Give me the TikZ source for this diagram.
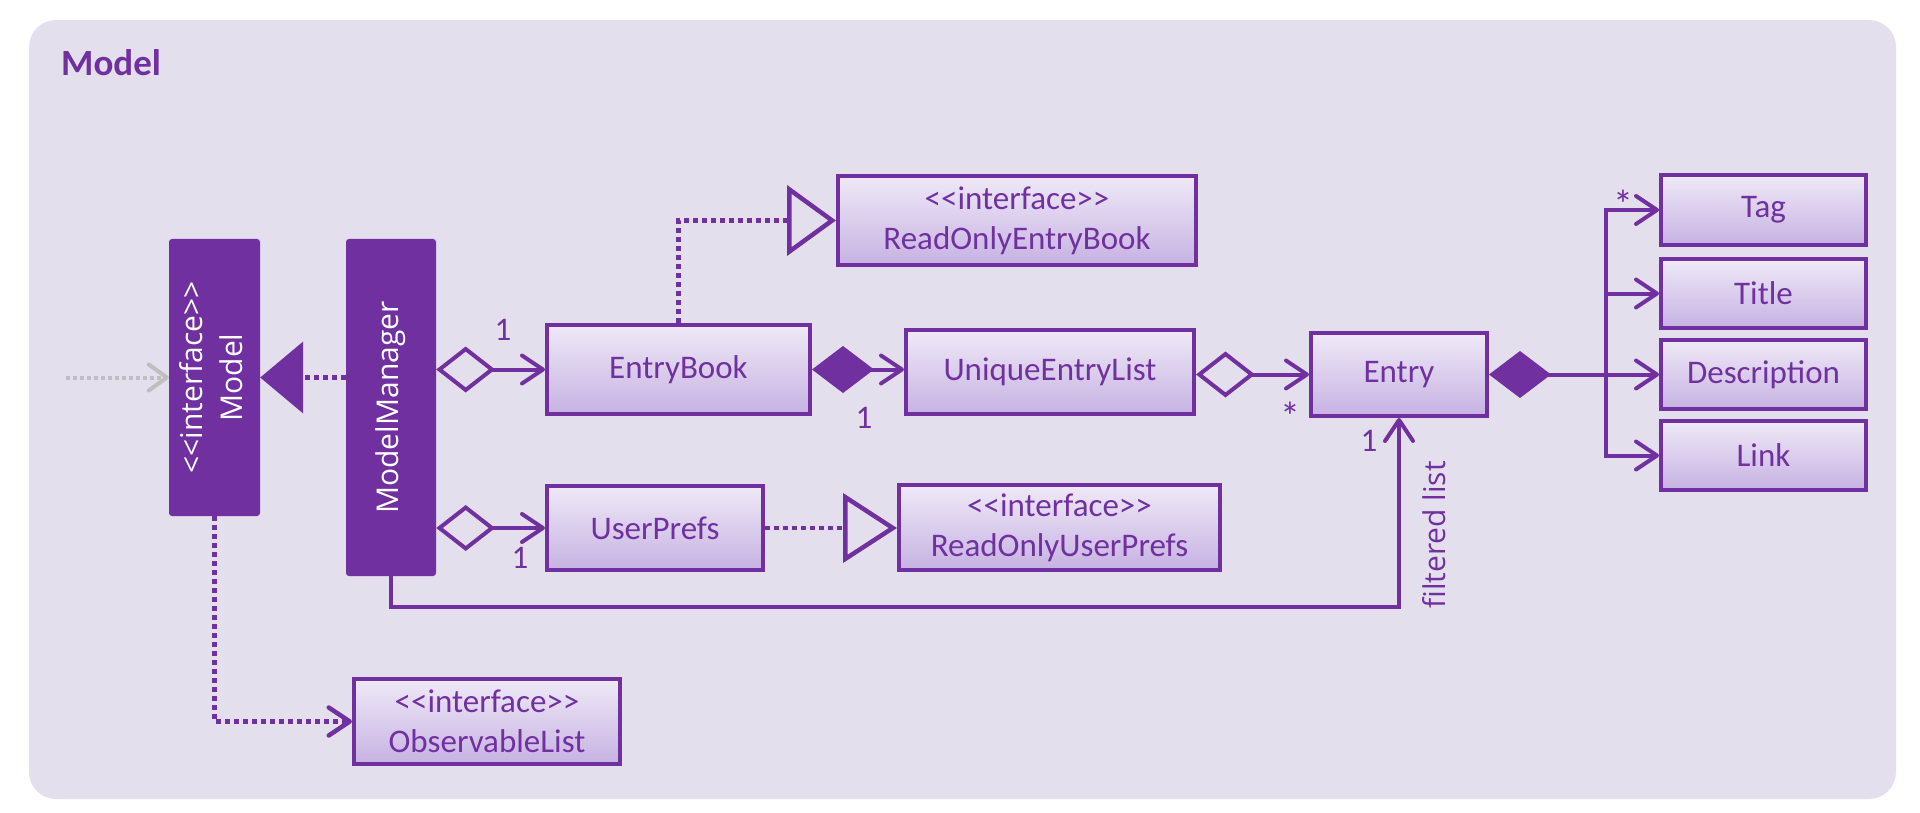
\documentclass[tikz,border=0pt]{standalone}
\usepackage{fontspec}
\usepackage{graphicx}
\newfontfamily\calibri{Carlito}
\newfontfamily\segoe{Open Sans}
\usetikzlibrary{arrows.meta}
\definecolor{umlpurple}{HTML}{7030A0}
\definecolor{pkgbg}{HTML}{E4DFEC}
\definecolor{boxtop}{HTML}{EFE9F7}
\definecolor{boxbot}{HTML}{C6B2E2}
\definecolor{extgray}{HTML}{BFBFBF}
\newcommand\stereo[1]{<\kern0pt<#1>\kern0pt>}
\begin{document}
\begin{tikzpicture}[x=1pt,y=-1pt,
  cls/.style={draw=umlpurple, line width=4pt, top color=boxtop, bottom color=boxbot,
    text=umlpurple, font=\calibri\fontsize{33}{40}\selectfont, align=center, inner sep=0pt},
  solidcls/.style={fill=umlpurple, rounded corners=3pt, text=white,
    font=\segoe\fontsize{30}{40}\selectfont, inner sep=0pt},
  conn/.style={draw=umlpurple, line width=4pt},
  dotline/.style={draw=umlpurple, line width=4.5pt, dash pattern=on 5pt off 4pt},
  openhead/.style={-{Straight Barb[length=21pt,width=28pt,round]}},
  aggr/.style={{Diamond[open,length=59pt,width=46pt]}-{Straight Barb[length=21pt,width=28pt,round]}},
  comp/.style={{Diamond[length=62pt,width=47pt]}-{Straight Barb[length=21pt,width=28pt,round]}},
  mult/.style={text=umlpurple, font=\calibri\fontsize{33}{40}\selectfont, inner sep=0pt,
    text height=22pt, text depth=0pt},
  star/.style={text=umlpurple, font=\calibri\fontsize{40}{48}\selectfont, inner sep=0pt, anchor=base},
]
\useasboundingbox (0,0) rectangle (1920,813);
\fill[white] (0,0) rectangle (1920,813);
\fill[pkgbg, rounded corners=27pt] (29,20) rectangle (1896,799);
\node[anchor=base west, inner sep=0pt, text=umlpurple, font=\calibri\bfseries\fontsize{37}{44}\selectfont] (title) at (61,76) {Model};

% classes
\node[solidcls, minimum width=91pt, minimum height=277pt] (model) at (214.5,377.5)
  {\rotatebox{90}{\begin{tabular}{@{}c@{}}\stereo{interface}\\Model\end{tabular}}};
\node[solidcls, minimum width=90pt, minimum height=337pt] (mm) at (391,407.5)
  {\rotatebox{90}{ModelManager}};
\node[cls, minimum width=263pt, minimum height=89pt] (eb) at (678.5,369.5) {EntryBook};
\node[cls, minimum width=358pt, minimum height=89pt] (roeb) at (1017,220.5) {\stereo{interface}\\ReadOnlyEntryBook};
\node[cls, minimum width=288pt, minimum height=84pt] (uel) at (1050,372) {UniqueEntryList};
\node[cls, minimum width=176pt, minimum height=83pt] (entry) at (1399,374.5) {Entry};
\node[cls, minimum width=205pt, minimum height=70pt] (tag) at (1763.5,210) {Tag};
\node[cls, minimum width=205pt, minimum height=69pt] (titlec) at (1763.5,293.5) {Title};
\node[cls, minimum width=205pt, minimum height=69pt] (desc) at (1763.5,374.5) {Description};
\node[cls, minimum width=205pt, minimum height=69pt] (link) at (1763.5,455.5) {Link};
\node[cls, minimum width=216pt, minimum height=84pt] (up) at (655,528) {UserPrefs};
\node[cls, minimum width=321pt, minimum height=85pt] (roup) at (1059.5,527.5) {\stereo{interface}\\ReadOnlyUserPrefs};
\node[cls, minimum width=266pt, minimum height=85pt] (ol) at (487,721.5) {\stereo{interface}\\ObservableList};

% coordinates
\coordinate (ext) at (66,377.5);
\coordinate (trunk) at (1606,374.5);
\coordinate (low) at (0,607);

% connectors
\draw[draw=extgray, line width=4pt, dash pattern=on 4pt off 3pt,
  -{Straight Barb[length=18pt,width=26pt,round]}] (ext) -- (model.west);
\draw[dotline, -{Triangle[length=43pt,width=71pt]}] (mm.west |- model.east) -- (model.east);
\draw[dotline, openhead] (model.south) |- (ol.west);
\draw[conn, aggr] (mm.east |- eb.west) -- (eb.west);
\draw[conn, aggr] (mm.east |- up.west) -- (up.west);
\draw[conn, comp] (eb.east) -- (eb.east -| uel.west);
\draw[conn, aggr] (uel.east |- entry.west) -- (entry.west);
\draw[dotline, -{Triangle[open,length=49pt,width=70pt]}] (eb.north) |- (roeb.west);
\draw[dotline, -{Triangle[open,length=54pt,width=69pt]}] (up.east) -- (up.east -| roup.west);
\draw[conn, {Diamond[length=62pt,width=47pt]}-] (entry.east) -- (trunk);
\draw[conn, line cap=rect] (trunk |- tag.west) -- (trunk |- link.west);
\draw[conn, openhead] (trunk |- tag.west) -- (tag.west);
\draw[conn, openhead] (trunk |- titlec.west) -- (titlec.west);
\draw[conn, openhead] (trunk) -- (desc.west);
\draw[conn, openhead] (trunk |- link.west) -- (link.west);
\draw[conn, openhead] (mm.south) -- (mm.south |- low) -| (entry.south);

% labels
\node[mult] (m1) at (503,329) {1};
\node[mult] (m2) at (520,557) {1};
\node[mult] (m3) at (864,417) {1};
\node[star] (m4) at (1290,430.5) {*};
\node[mult] (m5) at (1369,440) {1};
\node[star] (m6) at (1623,218.5) {*};
\node[rotate=90, inner sep=0pt, text=umlpurple, font=\segoe\fontsize{30}{36}\selectfont] (fl) at (1434,535) {filtered list};
\end{tikzpicture}
\end{document}
